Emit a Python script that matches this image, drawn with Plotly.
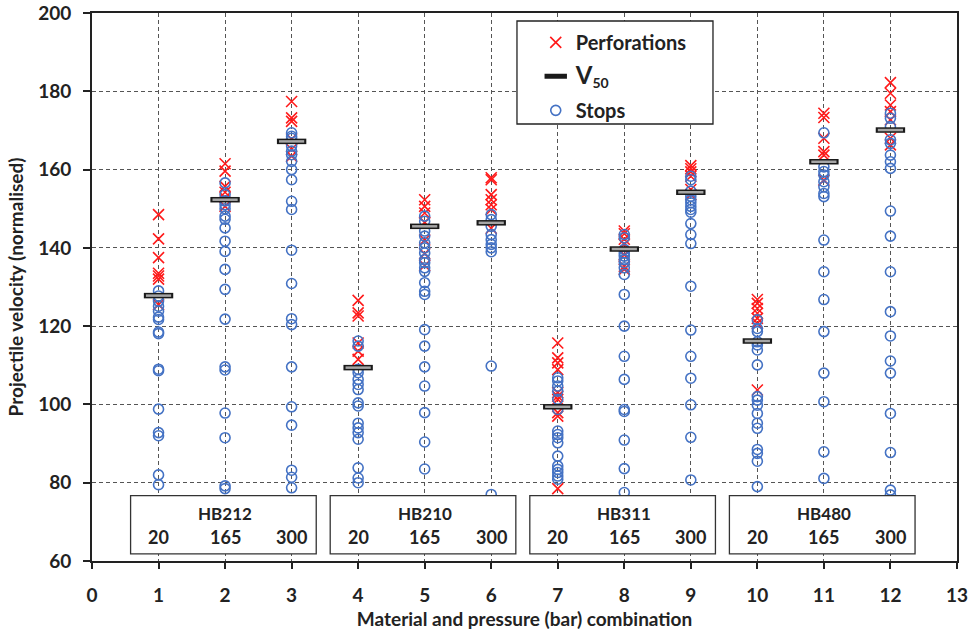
import plotly.graph_objects as go

# ---------------- data ----------------
combinations = [1, 2, 3, 4, 5, 6, 7, 8, 9, 10, 11, 12]
x_ticks = [0, 1, 2, 3, 4, 5, 6, 7, 8, 9, 10, 11, 12, 13]

perforations = [
    [148.5, 142.3, 137.5, 133.5, 132.8, 132.0, 125.5],
    [161.5, 159.6, 155.7, 154.2, 152.8, 150.6],
    [177.4, 173.2, 172.3, 167.8, 165.2, 163.4],
    [126.6, 123.4, 122.6, 115.7, 113.6, 111.5],
    [152.3, 150.6, 148.9, 146.5, 142.0, 138.5, 135.5],
    [157.9, 157.4, 153.6, 152.3, 151.0, 149.8, 145.0],
    [115.7, 111.9, 110.6, 108.9, 103.0, 102.1, 101.3, 97.9, 97.0, 78.5],
    [144.3, 143.6, 142.2, 140.9, 138.2, 135.3, 134.5],
    [161.0, 160.2, 159.4, 158.3, 154.9, 153.6],
    [126.8, 125.8, 124.5, 123.3, 122.0, 120.7, 103.7],
    [174.4, 173.3, 168.0, 164.6, 163.7, 157.3],
    [182.2, 179.5, 176.5, 174.8, 172.7, 168.0, 166.3],
]

stops = [
    [129.0, 127.7, 126.4, 125.1, 123.8, 122.3, 121.7, 118.5, 118.1, 109.0, 108.6,
     98.8, 92.8, 92.0, 82.0, 79.5],
    [156.6, 153.6, 152.0, 151.0, 150.0, 148.1, 147.3, 145.1, 141.7, 139.1, 134.5,
     129.4, 121.8, 109.6, 108.8, 97.8, 91.5, 79.2, 78.5],
    [169.4, 168.5, 168.0, 166.0, 164.7, 163.8, 162.1, 160.0, 157.4, 151.9, 149.8,
     139.4, 130.9, 121.9, 120.4, 109.6, 99.4, 94.7, 83.2, 81.4, 78.7],
    [116.2, 114.9, 109.0, 108.1, 106.4, 105.1, 103.8, 100.4, 99.6, 95.2, 94.0,
     92.8, 91.1, 83.8, 81.2, 80.0],
    [148.1, 146.8, 144.3, 143.0, 141.3, 140.0, 138.7, 137.0, 136.2, 134.9, 134.0,
     131.1, 128.9, 128.1, 119.1, 114.9, 109.6, 104.7, 97.9, 90.4, 83.5],
    [148.5, 147.2, 145.5, 143.4, 142.1, 140.9, 140.0, 139.0, 109.8, 77.0],
    [106.8, 106.0, 104.7, 103.4, 101.3, 98.7, 93.2, 92.3, 91.5, 90.2, 86.8, 84.3,
     83.4, 82.6, 81.7, 80.9],
    [143.4, 142.6, 139.6, 138.7, 137.9, 137.0, 136.2, 134.9, 133.2, 128.1, 120.0,
     112.3, 106.4, 98.7, 98.2, 90.9, 83.6, 77.5],
    [158.3, 157.4, 154.5, 153.2, 152.3, 151.5, 150.6, 149.8, 149.1, 146.2, 143.4,
     141.1, 130.2, 119.0, 112.3, 106.7, 99.9, 91.6, 80.7],
    [121.6, 119.4, 118.6, 116.0, 115.2, 113.9, 110.1, 102.0, 101.1, 99.8, 97.7,
     95.2, 93.9, 88.5, 87.5, 85.5, 79.0],
    [169.4, 160.7, 159.5, 158.6, 156.9, 155.6, 153.9, 153.1, 142.0, 133.9, 126.8,
     118.6, 108.0, 100.7, 87.9, 81.1],
    [174.4, 173.1, 171.0, 167.6, 166.7, 163.7, 162.0, 160.3, 149.4, 143.0, 133.9,
     123.7, 117.5, 111.1, 108.0, 97.7, 87.7, 78.1, 76.9],
]

v50 = [127.8, 152.3, 167.2, 109.4, 145.5, 146.4, 99.4, 139.7, 154.2, 116.2, 162.0, 170.1]

materials = ["HB212", "HB210", "HB311", "HB480"]
pressures = ["20", "165", "300"]

# ---------------- figure ----------------
FONT = "Lato"
perf_x = [c for c, vals in zip(combinations, perforations) for _ in vals]
perf_y = [v for vals in perforations for v in vals]
stop_x = [c for c, vals in zip(combinations, stops) for _ in vals]
stop_y = [v for vals in stops for v in vals]

fig = go.Figure()
fig.add_trace(go.Scatter(
    x=perf_x, y=perf_y, mode="markers", name="Perforations",
    legendgroup="p", legendrank=1,
    marker=dict(symbol="x-thin", size=11, line=dict(color="#FF1A1A", width=1.6)),
))
fig.add_trace(go.Scatter(
    x=stop_x, y=stop_y, mode="markers", name="Stops",
    legendgroup="s", legendrank=3,
    marker=dict(symbol="circle-open", size=10, color="#4472C4",
                line=dict(color="#4472C4", width=1.6)),
))
fig.add_trace(go.Scatter(
    x=combinations, y=v50, mode="markers",
    name="<span style='font-size:24px'>V</span><sub>50</sub>",
    legendgroup="v", legendrank=2,
    marker=dict(symbol="line-ew", size=21, line=dict(color="#1a1a1a", width=5.5)),
))
fig.add_trace(go.Scatter(
    x=combinations, y=v50, mode="markers", showlegend=False, hoverinfo="skip",
    marker=dict(symbol="line-ew", size=18, line=dict(color="#A6A6A6", width=2.5)),
))

# material / pressure boxes
for g, mat in enumerate(materials):
    c = combinations[3 * g: 3 * g + 3]
    fig.add_shape(type="rect", xref="x", yref="y",
                  x0=c[0] - 0.42, x1=c[2] + 0.37, y0=61.8, y1=76.7,
                  line=dict(color="#333333", width=1.3), fillcolor="white",
                  layer="above")
    fig.add_annotation(x=c[1], y=72.2, xref="x", yref="y", text=mat,
                       showarrow=False, font=dict(size=17, family=FONT, color="#222"))
    for xc, p in zip(c, pressures):
        fig.add_annotation(x=xc, y=66.1, xref="x", yref="y", text=p,
                           showarrow=False, font=dict(size=18, family=FONT, color="#222"))

# legend frame
fig.add_shape(type="rect", xref="paper", yref="paper",
              x0=0.4913, x1=0.7179, y0=0.7974, y1=0.9854,
              line=dict(color="#222222", width=1.3), fillcolor="white",
              layer="above")

axis_common = dict(
    showline=True, linecolor="#222222", linewidth=1.8, mirror=True,
    showgrid=True, gridcolor="#555555", gridwidth=1, griddash="4px,3px",
    zeroline=False, ticks="outside", tickcolor="#222222", tickwidth=1.5,
    tickfont=dict(size=19, family=FONT, color="#222"),
)

fig.update_xaxes(
    range=[0, 13.0005], tickvals=x_ticks, ticklen=6, ticklabelstandoff=10,
    ticklabeloverflow="allow",
    title=dict(text="Material and pressure (bar) combination",
               font=dict(size=19, family=FONT, color="#222"), standoff=8),
    **axis_common,
)
fig.update_yaxes(
    range=[60, 200], dtick=20, tick0=60, ticklen=7, ticklabelstandoff=8,
    title=dict(text="Projectile velocity (normalised)",
               font=dict(size=19, family=FONT, color="#222"), standoff=10),
    **axis_common,
)

fig.update_layout(
    width=968, height=630,
    margin=dict(l=92, r=11, t=13, b=69, autoexpand=False),
    paper_bgcolor="white", plot_bgcolor="white",
    font=dict(family=FONT, size=19, color="#222", weight="bold"),
    showlegend=True,
    legend=dict(x=0.513, y=0.982, xanchor="left", yanchor="top",
                bgcolor="rgba(0,0,0,0)", borderwidth=0,
                font=dict(size=20, family=FONT, color="#222"),
                tracegroupgap=5, itemwidth=30),
)

fig.write_html("out.html")
